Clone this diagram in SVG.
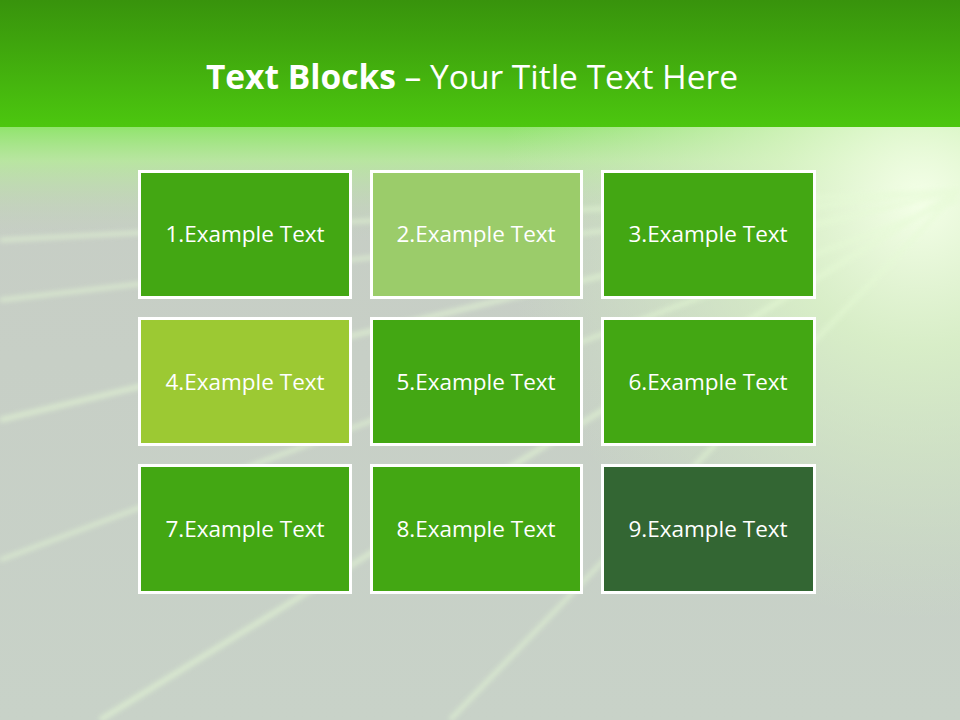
<svg xmlns="http://www.w3.org/2000/svg" width="960" height="720" viewBox="0 0 960 720">
<defs>
<linearGradient id="top" x1="0" y1="0" x2="0" y2="1">
<stop offset="0" stop-color="#38930c"/>
<stop offset="1" stop-color="#4cc70f"/>
</linearGradient>
<linearGradient id="bg" x1="0" y1="0" x2="0" y2="1">
<stop offset="0" stop-color="#c6ccc4"/>
<stop offset="1" stop-color="#c8d2c8"/>
</linearGradient>
<linearGradient id="fade" x1="0" y1="0" x2="0" y2="1">
<stop offset="0" stop-color="#8ee46a" stop-opacity="1"/>
<stop offset="0.3" stop-color="#b5eb98" stop-opacity="0.8"/>
<stop offset="1" stop-color="#c6ccc4" stop-opacity="0"/>
</linearGradient>
<radialGradient id="glow" cx="920" cy="200" r="420" gradientUnits="userSpaceOnUse">
<stop offset="0" stop-color="#f4ffe8" stop-opacity="1"/>
<stop offset="0.35" stop-color="#dcf5c8" stop-opacity="0.8"/>
<stop offset="1" stop-color="#d0ecc0" stop-opacity="0"/>
</radialGradient>
<filter id="blur" x="-10%" y="-10%" width="120%" height="120%"><feGaussianBlur stdDeviation="2.5"/></filter>
<style>
.box{stroke:#ffffff;stroke-width:3}
.lbl{font-family:"Open Sans","Liberation Sans",sans-serif;font-size:22.5px;fill:#ffffff;text-anchor:middle;dominant-baseline:central}
.ray{stroke:#e6fbd6;fill:none}
</style>
</defs>
<rect x="0" y="0" width="960" height="720" fill="url(#bg)"/>
<rect x="0" y="125" width="960" height="120" fill="url(#fade)"/>
<rect x="0" y="0" width="960" height="720" fill="url(#glow)"/>
<g opacity="0.6" filter="url(#blur)">
<path class="ray" d="M960 190 L0 420" stroke-width="5"/>
<path class="ray" d="M960 190 L0 300" stroke-width="4"/>
<path class="ray" d="M960 190 L100 720" stroke-width="5"/>
<path class="ray" d="M960 190 L450 720" stroke-width="4"/>
<path class="ray" d="M960 200 L0 560" stroke-width="4"/>
<path class="ray" d="M960 190 L0 240" stroke-width="4"/>
</g>
<rect x="0" y="0" width="960" height="127" fill="url(#top)"/>
<text x="472" y="76" font-family="'Open Sans','Liberation Sans',sans-serif" font-size="33.5" fill="#ffffff" text-anchor="middle" dominant-baseline="central"><tspan font-weight="bold">Text Blocks</tspan> – Your Title Text Here</text>
<g id="nodes">
<g id="n1"><rect class="box" x="139.5" y="171.5" width="211" height="126" fill="#43a713"/><text class="lbl" x="245" y="233">1.Example Text</text></g>
<g id="n2"><rect class="box" x="371.5" y="171.5" width="210" height="126" fill="#9bcc6a"/><text class="lbl" x="476" y="233">2.Example Text</text></g>
<g id="n3"><rect class="box" x="602.5" y="171.5" width="212" height="126" fill="#43a713"/><text class="lbl" x="708" y="233">3.Example Text</text></g>
<g id="n4"><rect class="box" x="139.5" y="318.5" width="211" height="126" fill="#9cc933"/><text class="lbl" x="245" y="381">4.Example Text</text></g>
<g id="n5"><rect class="box" x="371.5" y="318.5" width="210" height="126" fill="#43a713"/><text class="lbl" x="476" y="381">5.Example Text</text></g>
<g id="n6"><rect class="box" x="602.5" y="318.5" width="212" height="126" fill="#43a713"/><text class="lbl" x="708" y="381">6.Example Text</text></g>
<g id="n7"><rect class="box" x="139.5" y="465.5" width="211" height="127" fill="#43a713"/><text class="lbl" x="245" y="528">7.Example Text</text></g>
<g id="n8"><rect class="box" x="371.5" y="465.5" width="210" height="127" fill="#43a713"/><text class="lbl" x="476" y="528">8.Example Text</text></g>
<g id="n9"><rect class="box" x="602.5" y="465.5" width="212" height="127" fill="#336633"/><text class="lbl" x="708" y="528">9.Example Text</text></g>
</g>
<g id="connectors"/>
</svg>
